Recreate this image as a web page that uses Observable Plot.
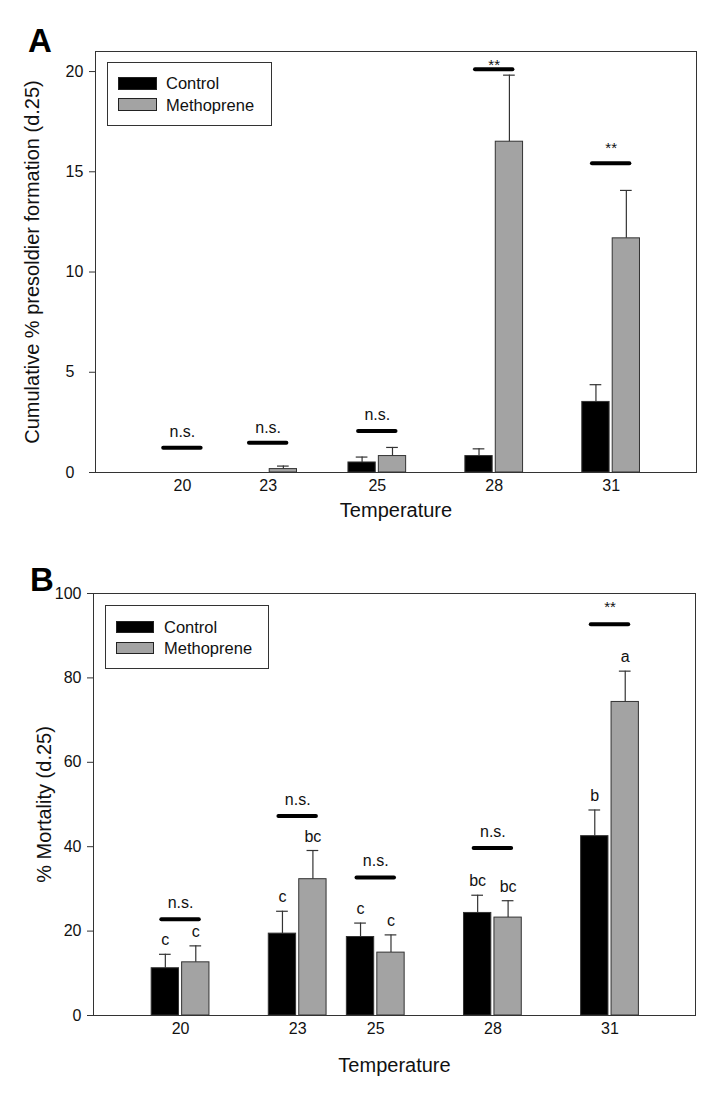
<!DOCTYPE html>
<html><head><meta charset="utf-8">
<script src="https://cdn.jsdelivr.net/npm/d3@7"></script>
<script src="https://cdn.jsdelivr.net/npm/@observablehq/plot@0.6"></script>
<style>
body{margin:0;background:#fff;font-family:"Liberation Sans",Arial,Helvetica,sans-serif;}
#wrap{position:relative;width:719px;height:1097px;overflow:hidden;background:#fff}
.panel{position:absolute;left:0}
.plabel{position:absolute;font-weight:bold;font-size:33px;line-height:1;color:#000}
.legend{position:absolute;border:1px solid #333;box-sizing:border-box;background:#fff}
.sw{position:absolute;box-sizing:border-box;border:1px solid #222}
.lt{position:absolute;font-size:16.5px;line-height:1;transform:translateY(-50%);color:#111;white-space:nowrap}
</style></head><body><div id="wrap"></div>
<script>
// ---- data ----
const temperatures = [20, 23, 25, 28, 31];
const tickLabels = ["20", "23", "25", "28", "31"];
// x values at which each group is drawn (panel A draws its "23" group at ~22.2)
const xValuesA = [20, 22.2, 25, 28, 31];
const xValuesB = [20, 23, 25, 28, 31];

// Panel A: cumulative % presoldier formation (d.25)
const controlA = [0, 0, 0.5, 0.82, 3.52];
const controlSEA = [0, 0, 0.27, 0.36, 0.86];
const methopreneA = [0, 0.17, 0.82, 16.5, 11.68];
const methopreneSEA = [0, 0.15, 0.43, 3.32, 2.39];
const sigA = ["n.s.", "n.s.", "n.s.", "**", "**"];
const sigLineA = [1.23, 1.48, 2.07, 20.12, 15.42];
const sigTextYA = [1.98, 2.2, 2.8, 20.5, 16.4];

// Panel B: % mortality (d.25)
const controlB = [11.2, 19.4, 18.6, 24.3, 42.5];
const controlSEB = [3.3, 5.3, 3.3, 4.2, 6.2];
const methopreneB = [12.6, 32.3, 14.9, 23.2, 74.3];
const methopreneSEB = [3.9, 6.8, 4.2, 4.0, 7.3];
const lettersControlB = ["c", "c", "c", "bc", "b"];
const lettersMethopreneB = ["c", "bc", "c", "bc", "a"];
const sigB = ["n.s.", "n.s.", "n.s.", "n.s.", "**"];
const sigLineB = [22.8, 47.3, 32.7, 39.7, 92.7];
const sigTextYB = [26.5, 50.8, 36.5, 43.3, 97.6];

const yTicksA = [0, 5, 10, 15, 20];
const yTicksB = [0, 20, 40, 60, 80, 100];
const seriesNames = ["Control", "Methoprene"];
const seriesColors = ["#000000", "#a3a3a3"];

const fontFamily = '"Liberation Sans", Arial, Helvetica, sans-serif';

function makePanel(cfg) {
  const rows = cfg.x.map((p, i) => ({p, i, sig: cfg.sig[i], line: cfg.sigLine[i], ty: cfg.sigTextY[i]}));
  const ctrl = cfg.x.map((p, i) => ({mid: p - 0.39, x1: p - 0.74, x2: p - 0.04, v: cfg.ctrl[i], se: cfg.ctrlSE[i], letter: cfg.letC ? cfg.letC[i] : ""}));
  const meth = cfg.x.map((p, i) => ({mid: p + 0.39, x1: p + 0.04, x2: p + 0.74, v: cfg.meth[i], se: cfg.methSE[i], letter: cfg.letM ? cfg.letM[i] : ""}));
  const all = ctrl.concat(meth);
  const withErr = all.filter(d => d.se > 0);
  const marks = [
    Plot.rect(ctrl.filter(d => d.v > 0), {x1: "x1", x2: "x2", y1: 0, y2: "v", fill: seriesColors[0], stroke: "#333", strokeWidth: 1}),
    Plot.rect(meth.filter(d => d.v > 0), {x1: "x1", x2: "x2", y1: 0, y2: "v", fill: seriesColors[1], stroke: "#333", strokeWidth: 1}),
    Plot.ruleX(withErr, {x: "mid", y1: "v", y2: d => d.v + d.se, stroke: "#333", strokeWidth: 1.2}),
    Plot.ruleY(withErr, {y: d => d.v + d.se, x1: d => d.mid - 0.15, x2: d => d.mid + 0.15, stroke: "#333", strokeWidth: 1.2}),
    Plot.ruleY(rows, {y: "line", x1: d => d.p - 0.48, x2: d => d.p + 0.48, stroke: "#000", strokeWidth: 4, strokeLinecap: "round"}),
    Plot.text(rows.filter(d => d.sig !== "**"), {x: "p", y: "ty", text: "sig", fontSize: 16, fill: "#111", dy: -1}),
    Plot.text(rows.filter(d => d.sig === "**"), {x: "p", y: "ty", text: "sig", fontSize: 15, fill: "#111", dy: 4}),
    Plot.frame({stroke: "#333", strokeWidth: 1}),
    Plot.axisY({ticks: cfg.yTicks, tickSize: 6, tickFormat: cfg.yLeftAligned ? () => "" : d => String(d), tickPadding: 6, label: null, fontSize: 16, stroke: "#333"}),
    Plot.axisX({ticks: cfg.x, tickFormat: d => tickLabels[cfg.x.indexOf(d)], tickSize: 0, tickPadding: 7, label: null, fontSize: 16}),
    Plot.text([cfg.yTitle], {frameAnchor: "left", rotate: -90, dx: cfg.yTitleDx, textAnchor: "middle", lineAnchor: "middle", fontSize: 20, fill: "#111"}),
    Plot.text(["Temperature"], {frameAnchor: "bottom", dy: cfg.xTitleDy, textAnchor: "middle", lineAnchor: "middle", fontSize: 20, fill: "#111"})
  ];
  if (cfg.yLeftAligned) {
    marks.push(Plot.text(cfg.yTicks, {y: d => d, text: d => String(d), frameAnchor: "left", dx: -30, textAnchor: "start", fontSize: 16, fill: "#111"}));
  }
  if (cfg.letC) {
    marks.push(Plot.text(all.filter(d => d.letter), {x: "mid", y: d => d.v + d.se, text: "letter", dy: -14, fontSize: 16, fill: "#111"}));
  }
  return Plot.plot({
    width: 719, height: cfg.height,
    marginTop: cfg.mt, marginBottom: cfg.mb, marginLeft: cfg.ml, marginRight: cfg.mr,
    x: {domain: [17.77, 33.19]},
    y: {domain: cfg.yDomain},
    style: {fontFamily, fontSize: "16px", color: "#111", background: "#fff", overflow: "visible"},
    marks
  });
}

const wrap = document.getElementById("wrap");

const A = makePanel({
  x: xValuesA, ctrl: controlA, ctrlSE: controlSEA, meth: methopreneA, methSE: methopreneSEA,
  sig: sigA, sigLine: sigLineA, sigTextY: sigTextYA,
  yDomain: [0, 21], yTicks: yTicksA, yLeftAligned: true,
  yTitle: "Cumulative % presoldier formation (d.25)", yTitleDx: -63, xTitleDy: 38,
  height: 530, mt: 51, mb: 58, ml: 95, mr: 23
});
A.classList.add("panel"); A.style.top = "0px";
wrap.appendChild(A);

const B = makePanel({
  x: xValuesB, ctrl: controlB, ctrlSE: controlSEB, meth: methopreneB, methSE: methopreneSEB,
  sig: sigB, sigLine: sigLineB, sigTextY: sigTextYB, letC: lettersControlB, letM: lettersMethopreneB,
  yDomain: [0, 100], yTicks: yTicksB, yLeftAligned: false,
  yTitle: "% Mortality (d.25)", yTitleDx: -49, xTitleDy: 50,
  height: 567, mt: 63, mb: 82, ml: 93, mr: 24
});
B.classList.add("panel"); B.style.top = "530px";
wrap.appendChild(B);

function addLabel(txt, left, top) {
  const d = document.createElement("div");
  d.className = "plabel"; d.textContent = txt;
  d.style.left = left + "px"; d.style.top = top + "px";
  wrap.appendChild(d);
}
addLabel("A", 28, 24);
addLabel("B", 30, 563);

function addLegend(box, swX, swW, swYs, swH, textX, textYs) {
  const lg = document.createElement("div");
  lg.className = "legend";
  lg.style.left = box[0] + "px"; lg.style.top = box[1] + "px";
  lg.style.width = box[2] + "px"; lg.style.height = box[3] + "px";
  wrap.appendChild(lg);
  seriesNames.forEach((name, i) => {
    const s = document.createElement("div");
    s.className = "sw";
    s.style.left = swX + "px"; s.style.top = swYs[i] + "px";
    s.style.width = swW + "px"; s.style.height = swH + "px";
    s.style.background = seriesColors[i];
    wrap.appendChild(s);
    const t = document.createElement("div");
    t.className = "lt"; t.textContent = name;
    t.style.left = textX + "px"; t.style.top = textYs[i] + "px";
    wrap.appendChild(t);
  });
}
addLegend([107, 62, 165, 64], 118, 39, [77, 98], 13, 166, [83, 104.5]);
addLegend([105, 605, 164, 64], 116, 38, [621, 642], 12, 164, [627, 648]);
</script></body></html>
